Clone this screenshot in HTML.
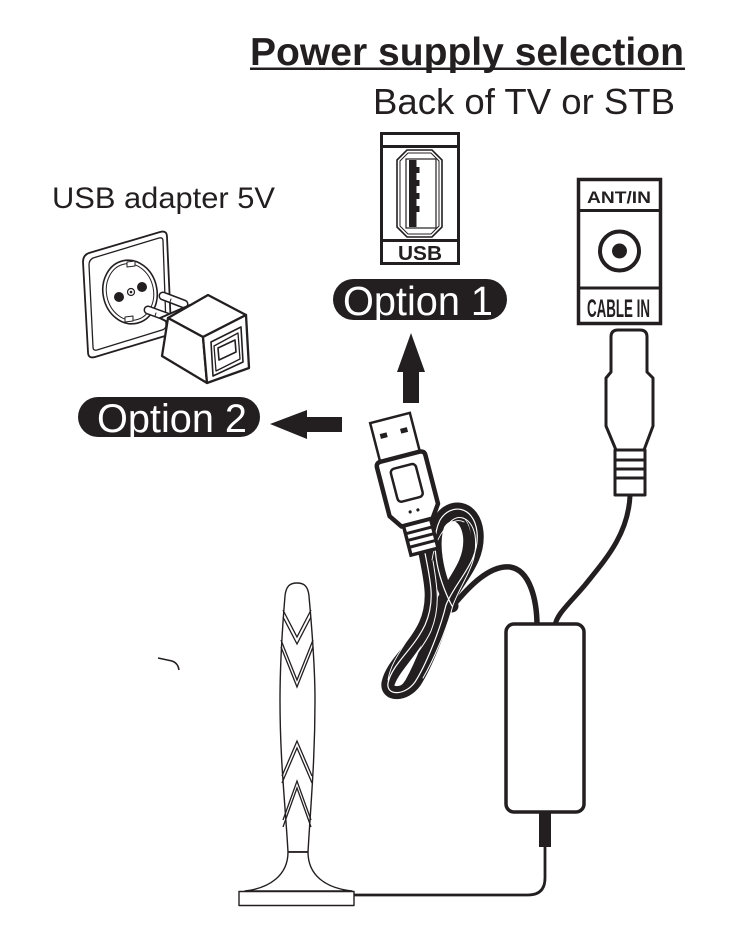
<!DOCTYPE html>
<html>
<head>
<meta charset="utf-8">
<style>
  html,body{margin:0;padding:0;background:#fff;}
  svg{display:block;}
</style>
</head>
<body>
<svg width="738" height="945" viewBox="0 0 738 945" xmlns="http://www.w3.org/2000/svg">
  <rect x="0" y="0" width="738" height="945" fill="#fff"/>

  <!-- Titles -->
  <text x="250" y="65" font-family="Liberation Sans, Arial, sans-serif" font-weight="bold" font-size="39" fill="#231f20" textLength="434" lengthAdjust="spacingAndGlyphs">Power supply selection</text>
  <rect x="250" y="67.5" width="435" height="2.5" fill="#231f20"/>
  <text x="373" y="114" font-family="Liberation Sans, Arial, sans-serif" font-size="36" fill="#231f20" textLength="302" lengthAdjust="spacingAndGlyphs">Back of TV or STB</text>

  <text x="52" y="208" font-family="Liberation Sans, Arial, sans-serif" font-size="30" fill="#231f20" textLength="223" lengthAdjust="spacingAndGlyphs">USB adapter 5V</text>

  <!-- Wall socket plate -->
  <g fill="#fff" stroke="#231f20" stroke-linejoin="round">
    <path d="M89,253 L160,232 Q167,230 167,237 L171,327 Q171,334 165,336 L95,357 Q88,359 88,352 L83,262 Q83,255 89,253 Z" stroke-width="1.8"/>
    <path d="M93,258 L159,238 Q163,237 163,241 L166,325 Q166,329 162,330 L97,350 Q93,351 93,347 L89,265 Q89,260 93,258 Z" stroke-width="1.3"/>
    <ellipse cx="130" cy="292" rx="27" ry="32" transform="rotate(-12 130 292)" stroke-width="1.6"/>
    <ellipse cx="130" cy="292" rx="23.5" ry="28.5" transform="rotate(-12 130 292)" stroke-width="1"/>
    <path d="M127,262 L135,261 L135,266 L127,267 Z" stroke-width="1"/>
    <path d="M125,317 L133,316 L133,321 L125,322 Z" stroke-width="1"/>
  </g>
  <circle cx="119" cy="297" r="5" fill="#231f20"/>
  <circle cx="142" cy="287" r="5" fill="#231f20"/>
  <circle cx="131" cy="292" r="3.5" fill="#fff" stroke="#231f20" stroke-width="1.2"/>
  <circle cx="131" cy="292" r="1.3" fill="#231f20"/>

  <!-- Prongs -->
  <g stroke-linecap="round">
    <line x1="148" y1="310" x2="170" y2="318" stroke="#231f20" stroke-width="9"/>
    <line x1="148" y1="310" x2="170" y2="318" stroke="#fff" stroke-width="6"/>
    <line x1="156" y1="313" x2="155" y2="316" stroke="#231f20" stroke-width="1"/>
    <line x1="163" y1="296" x2="184" y2="304" stroke="#231f20" stroke-width="9"/>
    <line x1="163" y1="296" x2="184" y2="304" stroke="#fff" stroke-width="6"/>
    <line x1="171" y1="299" x2="170" y2="302" stroke="#231f20" stroke-width="1"/>
  </g>
  <!-- adapter back block -->
  <path d="M160,318 L190,305 L205,312 L175,326 Z" fill="#fff" stroke="#231f20" stroke-width="2" stroke-linejoin="round"/>
  <!-- Adapter cube -->
  <g fill="#fff" stroke="#231f20" stroke-width="2.3" stroke-linejoin="round">
    <path d="M168,318 L208,295 L246,315 L203,337 Z"/>
    <path d="M168,318 L203,337 L207,383 L162,356 Z"/>
    <path d="M203,337 L246,315 L249,368 L207,383 Z"/>
    <path d="M211,342 L241,327 L243,362 L213,376 Z" stroke-width="1.6"/>
    <path d="M214,346 L238,333 L240,359 L216,371 Z" stroke-width="1.3"/>
    <path d="M218,348 L235,340 L236,352 L219,360 Z" stroke-width="1.6"/>
  </g>

  <!-- Option 2 pill -->
  <rect x="78" y="397" width="182" height="40" rx="20" fill="#231f20"/>
  <text x="97" y="432" font-family="Liberation Sans, Arial, sans-serif" font-size="40" fill="#fff" textLength="150" lengthAdjust="spacingAndGlyphs">Option 2</text>

  <!-- left arrow -->
  <polygon points="270,424 307,410 307,417 342,417 342,432 307,432 307,439" fill="#231f20"/>

  <!-- USB port box -->
  <g fill="none" stroke="#231f20">
    <rect x="381.5" y="133.5" width="77" height="130" stroke-width="3"/>
    <line x1="381.5" y1="146.5" x2="458.5" y2="146.5" stroke-width="3"/>
    <line x1="381.5" y1="240.5" x2="458.5" y2="240.5" stroke-width="3"/>
    <path d="M407,150 L432,150 L442,160 L442,227 L432,237 L407,237 L397,227 L397,160 Z" stroke-width="1.6"/>
    <path d="M408,153 L431,153 L439,161 L439,226 L431,234 L408,234 L400,226 L400,161 Z" stroke-width="1"/>
    <rect x="406" y="159" width="30" height="69" stroke-width="1.2"/>
  </g>
  <rect x="409" y="160" width="7.5" height="67" fill="#231f20"/>
  <rect x="416" y="167" width="3.5" height="6" fill="#231f20"/>
  <rect x="416" y="180" width="3.5" height="6" fill="#231f20"/>
  <rect x="416" y="193" width="3.5" height="6" fill="#231f20"/>
  <rect x="416" y="206" width="3.5" height="6" fill="#231f20"/>
  <text x="398" y="260" font-family="Liberation Sans, Arial, sans-serif" font-weight="bold" font-size="20" fill="#231f20" textLength="44" lengthAdjust="spacingAndGlyphs">USB</text>

  <!-- Option 1 pill -->
  <rect x="333" y="279" width="174" height="41" rx="20.5" fill="#231f20"/>
  <text x="343" y="315" font-family="Liberation Sans, Arial, sans-serif" font-size="41" fill="#fff" textLength="150" lengthAdjust="spacingAndGlyphs">Option 1</text>

  <!-- up arrow -->
  <polygon points="411,333 425,372 419,372 419,403 403,403 403,372 397,372" fill="#231f20"/>

  <!-- ANT/IN box -->
  <g fill="none" stroke="#231f20">
    <rect x="578.5" y="179.5" width="82" height="144" stroke-width="3.5"/>
    <line x1="578.5" y1="210.5" x2="660.5" y2="210.5" stroke-width="3"/>
    <line x1="578.5" y1="288" x2="660.5" y2="288" stroke-width="3"/>
    <circle cx="619.5" cy="251" r="19.5" stroke-width="4"/>
  </g>
  <circle cx="619.5" cy="251" r="7.5" fill="#231f20"/>
  <text x="587" y="203" font-family="Liberation Sans, Arial, sans-serif" font-weight="bold" font-size="17" fill="#231f20" textLength="64" lengthAdjust="spacingAndGlyphs">ANT/IN</text>
  <text x="587" y="317" font-family="Liberation Sans Narrow, Liberation Sans, Arial, sans-serif" font-weight="bold" font-size="25" fill="#231f20" textLength="63" lengthAdjust="spacingAndGlyphs">CABLE IN</text>

  <!-- Coax connector -->
  <g fill="#fff" stroke="#231f20" stroke-width="3" stroke-linejoin="round">
    <path d="M611,372 L611,337 Q611,330 618,330 L640,330 Q647,330 647,337 L647,372 L653,378 L653,426 L644,450 L616,450 L606,426 L606,378 L611,372 Z"/>
    <rect x="615" y="450" width="30" height="45"/>
  </g>
  <g stroke="#231f20" stroke-width="3">
    <line x1="614" y1="460" x2="646" y2="460"/>
    <line x1="614" y1="469" x2="646" y2="469"/>
    <line x1="614" y1="478" x2="646" y2="478"/>
  </g>
  <!-- coax cable -->
  <path d="M630,496 C628,535 605,560 585,585 C568,605 556,615 555,626" fill="none" stroke="#231f20" stroke-width="5"/>

  <!-- USB cable to box -->
  <path d="M452,607 C470,585 490,565 510,567 C530,570 537,600 537,626" fill="none" stroke="#231f20" stroke-width="5.5"/>

  <!-- Coil (figure-8 bundle) -->
  <g fill="none" stroke-linecap="round" stroke-linejoin="round">
    <path d="M425,553 C430,580 436,600 425,625 C413,650 392,664 388,683 C386,696 405,696 415,682 C426,665 440,630 446,605 C456,580 480,562 477,532 C474,505 450,503 440,520 C430,540 436,575 452,606" stroke="#231f20" stroke-width="13"/>
    <path d="M428,555 C434,582 440,602 430,627 C418,652 398,668 394,684 C392,694 406,692 413,680 C423,662 436,630 442,604 C452,580 474,562 471,534 C468,512 452,510 444,524 C436,542 440,572 455,604" stroke="#231f20" stroke-width="8" transform="translate(-4,2)"/>
    <path d="M425,553 C430,580 436,600 425,625 C413,650 392,664 388,683 C386,696 405,696 415,682 C426,665 440,630 446,605 C456,580 480,562 477,532 C474,505 450,503 440,520 C430,540 436,575 452,606" stroke="#fff" stroke-width="1.2"/>
    <path d="M430,560 C434,585 438,605 428,630 C418,652 398,668 394,684 M420,677 C430,660 444,628 450,604 C460,578 476,562 472,534 C468,514 452,512 445,524" stroke="#fff" stroke-width="1" transform="translate(3,1)"/>
    <path d="M423,620 C410,645 395,660 392,680 M436,560 C440,535 455,515 468,522" stroke="#fff" stroke-width="0.9" transform="translate(-4,0)"/>
  </g>

  <!-- USB plug -->
  <g transform="translate(390,418) rotate(-14.5)">
    <rect x="-20.5" y="0" width="41" height="40" fill="#fff" stroke="#231f20" stroke-width="2.5"/>
    <rect x="-14" y="13" width="7" height="5" fill="#231f20"/>
    <rect x="7" y="13" width="7" height="5" fill="#231f20"/>
    <path d="M-25,45 Q-25,40 -20,40 L20,40 Q25,40 25,45 L25,95 L16,108 L-16,108 L-25,95 Z" fill="#fff" stroke="#231f20" stroke-width="4.5" stroke-linejoin="round"/>
    <rect x="-13" y="50" width="26" height="34" rx="4" fill="#fff" stroke="#231f20" stroke-width="2.5"/>
    <circle cx="-4" cy="96" r="1.6" fill="#231f20"/>
    <circle cx="4" cy="96" r="1.6" fill="#231f20"/>
    <rect x="-14" y="108" width="28" height="30" fill="#fff" stroke="#231f20" stroke-width="3.5"/>
    <line x1="-14" y1="116" x2="14" y2="116" stroke="#231f20" stroke-width="3"/>
    <line x1="-14" y1="123" x2="14" y2="123" stroke="#231f20" stroke-width="3"/>
    <line x1="-14" y1="130" x2="14" y2="130" stroke="#231f20" stroke-width="3"/>
  </g>

  <!-- Power injector box -->
  <rect x="506" y="624" width="78" height="188" rx="8" fill="#fff" stroke="#231f20" stroke-width="3.5"/>
  <rect x="539" y="812" width="12" height="35" fill="#231f20"/>
  <path d="M545,846 L545,878 Q545,895 528,895 L353,895" fill="none" stroke="#231f20" stroke-width="2.8"/>

  <!-- Antenna -->
  <g fill="#fff" stroke="#231f20" stroke-width="1.4" stroke-linejoin="round">
    <path d="M288,852 C285,800 280,760 280,700 C280,660 283,620 285,596 C286,586 290,583 297,583 C304,583 308,586 309,596 C311,620 315,660 315,700 C315,760 311,800 308,852 Z"/>
    <path d="M288,852 C288,875 270,888 245,891 L352,891 C325,888 308,875 308,852 Z"/>
    <rect x="239" y="891.5" width="115" height="14"/>
    <line x1="288" y1="852" x2="308" y2="852" stroke-width="1.6"/>
  </g>
  <g fill="none" stroke="#231f20" stroke-width="1.3">
    <polyline points="283,610 297,637 311,610"/>
    <polyline points="283,617 297,644 311,617"/>
    <polyline points="281,640 297,680 313,640"/>
    <polyline points="281,647 297,687 313,647"/>
    <polyline points="282,776 297,741 312,776"/>
    <polyline points="282,783 297,748 312,783"/>
    <polyline points="283,820 297,781 311,820"/>
    <polyline points="283,827 297,788 311,827"/>
  </g>

  <!-- small stray mark -->
  <path d="M158,658 L172,661 Q178,663 179,670" fill="none" stroke="#231f20" stroke-width="1.5"/>
</svg>
</body>
</html>
